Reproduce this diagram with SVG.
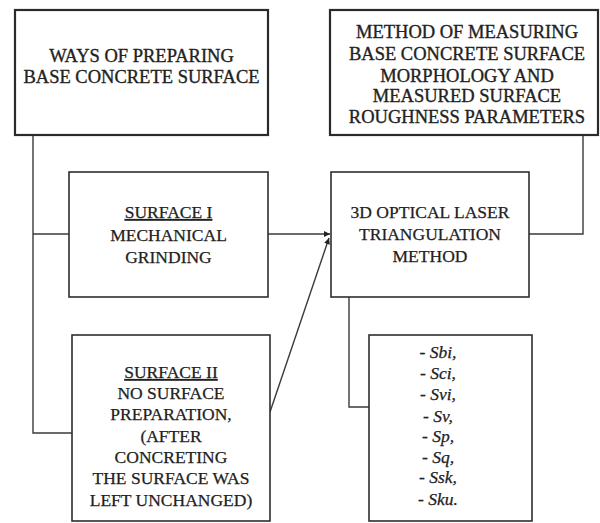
<svg xmlns="http://www.w3.org/2000/svg" width="600" height="523" viewBox="0 0 600 523">
<style>
.box{fill:#fff;stroke:#2e2e2e;stroke-width:1.6}
.hbox{fill:#fff;stroke:#2a2a2a;stroke-width:2.2}
.t{font-family:"Liberation Serif","Times New Roman",serif;font-size:17.5px;fill:#222;stroke:#222;stroke-width:0.25;text-anchor:middle}
.h{font-size:18.5px;stroke-width:0.35}
.i{font-style:italic}
.c{fill:none;stroke:#3a3a3a;stroke-width:1.4}
</style>
<defs>
<marker id="ah" viewBox="0 0 10 10" refX="10" refY="5" markerWidth="7" markerHeight="6" orient="auto" markerUnits="userSpaceOnUse">
<path d="M0,0 L10,5 L0,10 z" fill="#222"/>
</marker>
</defs>
<g id="connectors">
<polyline class="c" points="33,135 33,433 72,433"/>
<line class="c" x1="33" y1="234" x2="69" y2="234"/>
<line class="c" x1="268" y1="234" x2="330" y2="234" marker-end="url(#ah)"/>
<line class="c" x1="270" y1="412" x2="329" y2="238" marker-end="url(#ah)"/>
<polyline class="c" points="529,234 583,234 583,135"/>
<polyline class="c" points="349,297 349,407 369,407"/>
</g>
<g id="ways">
<rect class="hbox" x="15" y="10" width="253" height="125"/>
<text class="t h" x="141.5" y="62">WAYS OF PREPARING</text>
<text class="t h" x="141.5" y="83">BASE CONCRETE SURFACE</text>
</g>
<g id="surface1">
<rect class="box" x="69" y="172" width="199" height="125"/>
<text class="t" x="168.5" y="218" text-decoration="underline">SURFACE I</text>
<text class="t" x="168.5" y="241">MECHANICAL</text>
<text class="t" x="168.5" y="263">GRINDING</text>
</g>
<g id="surface2">
<rect class="box" x="72" y="335" width="198" height="186"/>
<text class="t" x="171" y="378" text-decoration="underline">SURFACE II</text>
<text class="t" x="171" y="399">NO SURFACE</text>
<text class="t" x="171" y="420">PREPARATION,</text>
<text class="t" x="171" y="442">(AFTER</text>
<text class="t" x="171" y="463">CONCRETING</text>
<text class="t" x="171" y="484">THE SURFACE WAS</text>
<text class="t" x="171" y="506">LEFT UNCHANGED)</text>
</g>
<g id="method">
<rect class="hbox" x="330" y="10" width="268" height="125"/>
<text class="t h" x="467" y="38">METHOD OF MEASURING</text>
<text class="t h" x="467" y="60">BASE CONCRETE SURFACE</text>
<text class="t h" x="467" y="82">MORPHOLOGY AND</text>
<text class="t h" x="467" y="102">MEASURED SURFACE</text>
<text class="t h" x="467" y="123">ROUGHNESS PARAMETERS</text>
</g>
<g id="laser">
<rect class="box" x="331" y="172" width="198" height="125"/>
<text class="t" x="430" y="218">3D OPTICAL LASER</text>
<text class="t" x="430" y="240">TRIANGULATION</text>
<text class="t" x="430" y="262">METHOD</text>
</g>
<g id="params">
<rect class="box" x="369" y="335" width="163" height="186"/>
<text class="t i" x="438" y="358">- Sbi,</text>
<text class="t i" x="438" y="379">- Sci,</text>
<text class="t i" x="438" y="400">- Svi,</text>
<text class="t i" x="438" y="422">- Sv,</text>
<text class="t i" x="438" y="442">- Sp,</text>
<text class="t i" x="438" y="463">- Sq,</text>
<text class="t i" x="438" y="483">- Ssk,</text>
<text class="t i" x="438" y="505">- Sku.</text>
</g>
</svg>
